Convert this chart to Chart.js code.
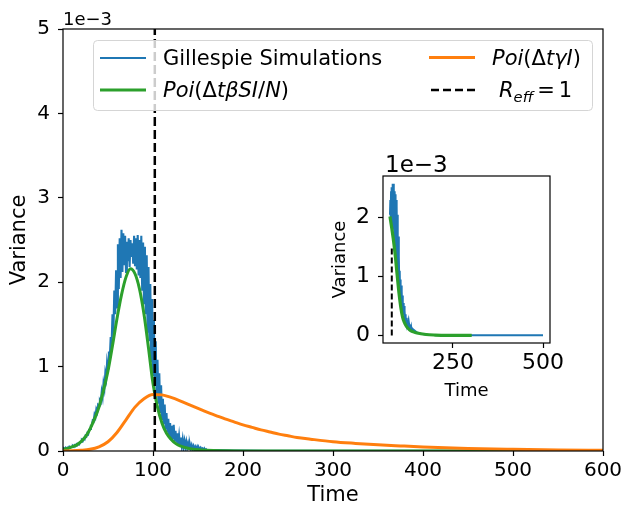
<!DOCTYPE html>
<html><head><meta charset="utf-8">
<script src="https://cdn.jsdelivr.net/npm/chart.js@4.4.0/dist/chart.umd.min.js"></script>
<style>
html,body{margin:0;padding:0;background:#fff;}
#wrap{position:relative;width:627px;height:508px;overflow:hidden;}
#main{position:absolute;left:0;top:0;}
#inset{position:absolute;left:320px;top:150px;}
</style></head><body>
<div id="wrap"><canvas id="main" width="627" height="508"></canvas><canvas id="inset" width="260" height="260"></canvas></div>
<script>
// ---------- main axes data (variance in units of 1e-3) ----------
const mainXTicks = [0, 100, 200, 300, 400, 500, 600];
const mainYTicks = [0, 1, 2, 3, 4, 5];
const insetXTicks = [250, 500];
const insetYTicks = [0, 1, 2];

// Gillespie simulations, dense samples every 1 time unit starting at t = 0
const blueStart = 0;
const blueDense = [
 0.02,0.03,0.02,0.04,0.03,0.04,0.03,0.05,0.04,0.05,
 0.05,0.06,0.05,0.07,0.06,0.08,0.07,0.09,0.08,0.10,
 0.11,0.13,0.12,0.15,0.14,0.18,0.17,0.21,0.20,0.25,
 0.26,0.30,0.30,0.36,0.35,0.43,0.40,0.49,0.46,0.55,
 0.54,0.60,0.58,0.70,0.64,0.80,0.74,0.92,0.86,1.05,
 0.98,1.18,1.10,1.35,1.26,1.62,1.40,1.90,1.62,2.14,
 1.70,2.45,1.92,2.52,2.05,2.62,2.12,2.58,2.20,2.55,
 2.12,2.48,2.25,2.52,2.18,2.50,2.30,2.46,2.22,2.55,
 2.20,2.52,2.15,2.56,2.08,2.50,2.05,2.55,1.90,2.47,
 1.75,2.42,1.62,2.32,1.40,2.18,1.30,1.98,1.05,1.80,
 0.90,1.55,0.78,1.30,0.65,1.08,0.56,0.92,0.45,0.78,
 0.38,0.62,0.32,0.55,0.26,0.45,0.22,0.38,0.18,0.33,
 0.16,0.30,0.14,0.31,0.12,0.24,0.10,0.21,0.08,0.18,
 0.07,0.16,0.06,0.14,0.05,0.12,0.05,0.11,0.04,0.09,
 0.04,0.08,0.03,0.07,0.03,0.06,0.02,0.05,0.02,0.05,
 0.02,0.04,0.02,0.04,0.02,0.03,0.01,0.03,0.01,0.02,0.01
];
const blueTailTime = [170,180,190,200,225,250,275,300,350,400,450,500];
const blueTailVar  = [0.012,0.008,0.006,0.004,0.003,0.002,0.002,0.001,0.001,0.001,0.001,0.001];

const greenTime = [0,5,10,15,20,25,30,35,40,45,50,55,60,65,70,75,80,85,90,95,100,105,110,115,120,125,130,140,150,160,180,200,250,300,400,500,600];
const greenVar  = [0.02,0.03,0.05,0.07,0.11,0.17,0.26,0.38,0.52,0.72,0.95,1.25,1.57,1.85,2.06,2.16,2.10,1.92,1.62,1.22,0.80,0.52,0.33,0.21,0.14,0.09,0.06,0.03,0.015,0.008,0.003,0.001,0,0,0,0,0];

const orangeTime = [0,10,20,30,40,50,60,70,80,90,100,110,120,130,140,150,160,170,180,190,200,210,220,230,240,250,260,275,300,325,350,375,400,450,500,550,600];
const orangeVar  = [0,0.002,0.008,0.02,0.05,0.11,0.22,0.37,0.52,0.62,0.67,0.665,0.635,0.595,0.55,0.505,0.46,0.42,0.38,0.345,0.31,0.28,0.25,0.225,0.20,0.18,0.16,0.14,0.11,0.09,0.073,0.06,0.048,0.03,0.02,0.013,0.009];

const reffTime = 102;

// ---------- inset data ----------
const insetBlueStart = 75;
const insetBlueDense = [
 2.05,2.30,2.00,2.45,1.95,2.52,1.90,2.58,1.85,2.58,
 1.80,2.50,1.70,2.45,1.60,2.40,1.50,2.30,1.35,2.20,
 1.20,2.05,1.05,1.68,0.90,1.35,0.80,1.10,0.70,0.95,
 0.60,0.85,0.52,0.75,0.45,0.68,0.40,0.55,0.35,0.50,
 0.30,0.42,0.26,0.36,0.22,0.30,0.19,0.27,0.17,0.24,
 0.15,0.21,0.13,0.19,0.12,0.17,0.10,0.15,0.09,0.14,
 0.08,0.12,0.07,0.11,0.06,0.10
];
const insetBlueTailTime = [150,160,170,180,190,200,225,250,300,350,400,450,500];
const insetBlueTailVar  = [0.05,0.03,0.02,0.012,0.008,0.005,0.003,0.002,0.001,0.001,0.001,0.001,0.001];
const insetGreenTime = [75,80,85,90,95,100,105,110,115,120,130,140,150,175,200,250,302];
const insetGreenVar  = [2.02,1.82,1.60,1.34,1.02,0.72,0.48,0.31,0.22,0.16,0.09,0.06,0.04,0.015,0.006,0.001,0];
const insetReffTime = 80;
const insetReffTop = 1.5;

// ---------- helpers ----------
const FONT = '"DejaVu Sans", "Liberation Sans", sans-serif';
const C_BLUE = '#1f77b4', C_ORANGE = '#ff7f0e', C_GREEN = '#2ca02c';

function densePts(start, arr) { return arr.map((v, i) => ({x: start + i, y: v})); }
function pairPts(xs, ys) { return xs.map((x, i) => ({x: x, y: ys[i]})); }

const framePlugin = {
  id: 'frame',
  beforeDraw(chart, args, opts) {
    const ctx = chart.ctx, a = chart.chartArea;
    ctx.save();
    if (opts.fullBg) { ctx.fillStyle = '#fff'; ctx.fillRect(0, 0, chart.width, chart.height); }
    ctx.fillStyle = '#fff';
    ctx.fillRect(a.left, a.top, a.right - a.left, a.bottom - a.top);
    ctx.restore();
  },
  afterDraw(chart, args, opts) {
    const ctx = chart.ctx, a = chart.chartArea;
    ctx.save();
    ctx.strokeStyle = '#000'; ctx.lineWidth = 1.2;
    ctx.strokeRect(a.left, a.top, a.right - a.left, a.bottom - a.top);
    ctx.fillStyle = '#000';
    ctx.font = opts.offFont + 'px ' + FONT;
    ctx.textBaseline = 'alphabetic'; ctx.textAlign = 'left';
    ctx.fillText('1e\u22123', a.left + opts.offDx, a.top - opts.offDy);
    ctx.restore();
  }
};

function drawParts(ctx, parts, x, y, size) {
  for (const p of parts) {
    const s = p.sub ? size * 0.7 : size;
    ctx.font = (p.it ? 'italic ' : '') + s + 'px ' + FONT;
    ctx.fillText(p.t, x + (p.pre || 0), y + (p.sub ? size * 0.22 : 0));
    x += (p.pre || 0) + ctx.measureText(p.t).width + (p.post || 0);
  }
  return x;
}

const legendPlugin = {
  id: 'mathLegend',
  afterDraw(chart) {
    const ctx = chart.ctx;
    ctx.save();
    const bx = 93.5, by = 40.5, bw = 499, bh = 70, r = 4;
    ctx.beginPath();
    ctx.moveTo(bx + r, by); ctx.lineTo(bx + bw - r, by); ctx.arcTo(bx + bw, by, bx + bw, by + r, r);
    ctx.lineTo(bx + bw, by + bh - r); ctx.arcTo(bx + bw, by + bh, bx + bw - r, by + bh, r);
    ctx.lineTo(bx + r, by + bh); ctx.arcTo(bx, by + bh, bx, by + bh - r, r);
    ctx.lineTo(bx, by + r); ctx.arcTo(bx, by, bx + r, by, r); ctx.closePath();
    ctx.fillStyle = 'rgba(255,255,255,0.8)'; ctx.fill();
    ctx.strokeStyle = '#d5d5d5'; ctx.lineWidth = 1; ctx.stroke();
    const hl = (x1, x2, y, col, w, dash) => {
      ctx.beginPath(); ctx.setLineDash(dash || []); ctx.strokeStyle = col; ctx.lineWidth = w;
      ctx.moveTo(x1, y); ctx.lineTo(x2, y); ctx.stroke(); ctx.setLineDash([]);
    };
    hl(100, 146, 58, C_BLUE, 2);
    hl(100, 146, 90, C_GREEN, 3);
    hl(429, 475, 57.5, C_ORANGE, 3);
    hl(431, 475, 90, '#000', 2.5, [8, 4]);
    ctx.fillStyle = '#000'; ctx.textBaseline = 'alphabetic'; ctx.textAlign = 'left';
    const S = 21;
    drawParts(ctx, [{t: 'Gillespie Simulations'}], 163, 65, S);
    drawParts(ctx, [{t: 'Poi', it: true}, {t: '(\u0394'}, {t: 't\u03b2SI', it: true}, {t: '/'}, {t: 'N', it: true}, {t: ')'}], 163, 97, S);
    drawParts(ctx, [{t: 'Poi', it: true}, {t: '(\u0394'}, {t: 't\u03b3I', it: true}, {t: ')'}], 492, 65, S);
    drawParts(ctx, [{t: 'R', it: true}, {t: 'eff', it: true, sub: true}, {t: '=', pre: 4, post: 4}, {t: '1'}], 499, 97, S);
    ctx.restore();
  }
};

function axisCommon(tickList, fontSize, pad, tickLen) {
  return {
    type: 'linear',
    afterBuildTicks: (s) => { s.ticks = tickList.map(v => ({value: v})); },
    ticks: { color: '#000', font: {family: FONT, size: fontSize}, padding: pad, maxRotation: 0, autoSkip: false,
             callback: (v) => String(v) },
    grid: { display: true, drawOnChartArea: false, drawTicks: true, tickLength: tickLen, color: '#000', tickWidth: 1.2 },
    border: { display: false }
  };
}

// ---------- main chart ----------
const mainX = Object.assign(axisCommon(mainXTicks, 20, 3, 5), {
  min: 0, max: 600,
  title: { display: true, text: 'Time', color: '#000', font: {family: FONT, size: 21}, padding: {top: 0, bottom: 0} },
  afterFit: (s) => { s.height = 57; }
});
const mainY = Object.assign(axisCommon(mainYTicks, 20, 8, 5), {
  min: 0, max: 5,
  title: { display: true, text: 'Variance', color: '#000', font: {family: FONT, size: 21}, padding: {top: 7, bottom: 0} },
  afterFit: (s) => { s.width = 63; }
});

new Chart(document.getElementById('main'), {
  type: 'line',
  data: { datasets: [
    { data: [{x: reffTime, y: 0}, {x: reffTime, y: 5}], borderColor: '#000', borderWidth: 2.5, borderDash: [9, 4], order: 0 },
    { data: pairPts(orangeTime, orangeVar), borderColor: C_ORANGE, borderWidth: 3, cubicInterpolationMode: 'monotone', order: 1 },
    { data: pairPts(greenTime, greenVar), borderColor: C_GREEN, borderWidth: 3, cubicInterpolationMode: 'monotone', order: 2 },
    { data: densePts(blueStart, blueDense).concat(pairPts(blueTailTime, blueTailVar)), borderColor: C_BLUE, borderWidth: 2.1, tension: 0, order: 3 }
  ]},
  options: {
    responsive: false, animation: false, devicePixelRatio: 1,
    layout: { padding: {left: 0, right: 24, top: 29, bottom: 0} },
    elements: { point: {radius: 0} },
    plugins: { legend: {display: false}, tooltip: {enabled: false},
               frame: { fullBg: true, offFont: 18, offDx: 0, offDy: 4 } },
    scales: { x: mainX, y: mainY }
  },
  plugins: [framePlugin, legendPlugin]
});

// ---------- inset chart ----------
const insX = Object.assign(axisCommon(insetXTicks, 22, 2, 5), {
  min: 55.6, max: 519.4,
  title: { display: true, text: 'Time', color: '#000', font: {family: FONT, size: 18}, padding: {top: 0, bottom: 8} },
  afterFit: (s) => { s.height = 67; }
});
const insY = Object.assign(axisCommon(insetYTicks, 22, 8, 5), {
  min: -0.129, max: 2.71,
  title: { display: true, text: 'Variance', color: '#000', font: {family: FONT, size: 18}, padding: {top: 10, bottom: 0} },
  afterFit: (s) => { s.width = 63; }
});

new Chart(document.getElementById('inset'), {
  type: 'line',
  data: { datasets: [
    { data: [{x: insetReffTime, y: 0}, {x: insetReffTime, y: insetReffTop}], borderColor: '#000', borderWidth: 2, borderDash: [6, 3], order: 0 },
    { data: pairPts(insetGreenTime, insetGreenVar), borderColor: C_GREEN, borderWidth: 3.2, cubicInterpolationMode: 'monotone', order: 1 },
    { data: densePts(insetBlueStart, insetBlueDense).concat(pairPts(insetBlueTailTime, insetBlueTailVar)), borderColor: C_BLUE, borderWidth: 2, tension: 0, order: 2 }
  ]},
  options: {
    responsive: false, animation: false, devicePixelRatio: 1,
    layout: { padding: {left: 0, right: 30, top: 26, bottom: 0} },
    elements: { point: {radius: 0} },
    plugins: { legend: {display: false}, tooltip: {enabled: false},
               frame: { fullBg: false, offFont: 23, offDx: 2, offDy: 4 } },
    scales: { x: insX, y: insY }
  },
  plugins: [framePlugin]
});
</script>
</body></html>
